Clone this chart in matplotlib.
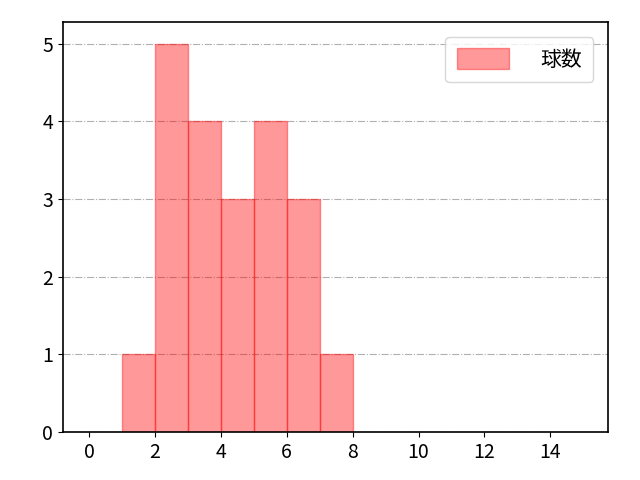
import matplotlib
matplotlib.use("Agg")
import matplotlib.pyplot as plt

plt.rcParams["font.family"] = ["Noto Sans CJK JP", "DejaVu Sans"]


# =====================================
# Data (pitch counts per bin)
# =====================================

bin_edges = [1, 2, 3, 4, 5, 6, 7, 8]
counts = [1, 5, 4, 3, 4, 3, 1]
label = "球数"


# =====================================
# Create Chart
# =====================================

fig, ax = plt.subplots(
    figsize=(6.4, 4.8),
    dpi=100
)

ax.hist(
    bin_edges[:-1],
    bins=bin_edges,
    weights=counts,
    color="red",
    alpha=0.4,
    edgecolor="red",
    linewidth=1,
    label=label
)

ax.set_xlim(-0.8, 15.75)
ax.set_ylim(0, 5.28)
ax.set_xticks(range(0, 16, 2))

ax.grid(
    True,
    axis="y",
    linestyle="-.",
    color="#b0b0b0"
)
ax.set_axisbelow(True)

ax.tick_params(labelsize=14)
for side in ax.spines.values():
    side.set_linewidth(1.2)

ax.legend(
    loc="upper right",
    fontsize=15,
    handlelength=2.5,
    handleheight=1.2,
    handletextpad=1.5,
    borderpad=0.55,
    borderaxespad=0.7
)

plt.subplots_adjust(
    left=0.098,
    right=0.95,
    top=0.954,
    bottom=0.1
)

plt.savefig("out.png", dpi=100)
plt.close()
